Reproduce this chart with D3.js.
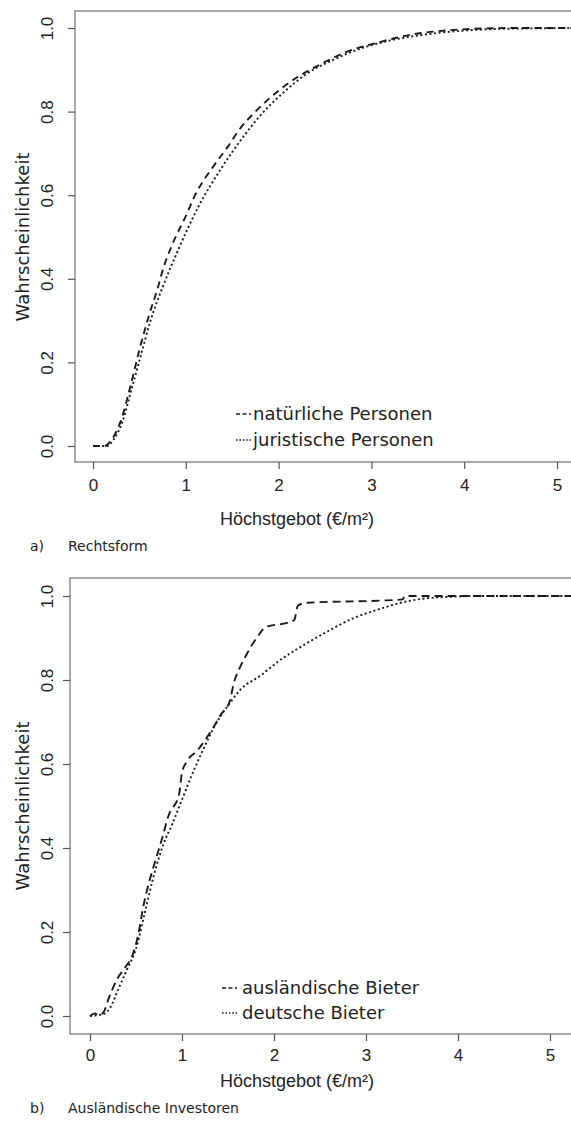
<!DOCTYPE html>
<html>
<head>
<meta charset="utf-8">
<script src="https://cdn.jsdelivr.net/npm/d3@7"></script>
<style>
  html, body { margin: 0; padding: 0; background: #fff; }
  svg { display: block; }
  .tick text { font-family: "Liberation Sans", Arial, sans-serif; font-size: 17px; fill: #222; }
</style>
</head>
<body>
<svg id="chart" width="571" height="1121"></svg>
<script>
// Empirical distribution of the highest bid (€/m²), two comparisons.
const xTicks = [0, 1, 2, 3, 4, 5];
const yTicks = [0.0, 0.2, 0.4, 0.6, 0.8, 1.0];
const xLabel = "Höchstgebot (€/m²)";
const yLabel = "Wahrscheinlichkeit";

// Panel a: legal form
const natuerlichePersonen = [
  [0, 0], [0.12, 0], [0.2, 0.015], [0.3, 0.06], [0.4, 0.14], [0.5, 0.23], [0.6, 0.31],
  [0.7, 0.38], [0.75, 0.42], [0.85, 0.48], [1.0, 0.55], [1.1, 0.6], [1.3, 0.67],
  [1.45, 0.715], [1.57, 0.755], [1.75, 0.8], [2.0, 0.85], [2.2, 0.882], [2.4, 0.907],
  [2.7, 0.94], [3.1, 0.967], [3.45, 0.985], [3.8, 0.994], [4.1, 0.998], [4.5, 1], [5.3, 1]
];
const juristischePersonen = [
  [0, 0], [0.15, 0], [0.22, 0.015], [0.32, 0.06], [0.42, 0.14], [0.52, 0.22], [0.62, 0.3],
  [0.75, 0.38], [0.9, 0.46], [1.13, 0.57], [1.37, 0.66], [1.62, 0.74], [1.8, 0.79],
  [2.05, 0.845], [2.3, 0.89], [2.6, 0.925], [2.9, 0.952], [3.2, 0.97], [3.6, 0.985],
  [4.0, 0.994], [4.4, 0.998], [5.3, 1]
];

// Panel b: foreign investors
const auslaendischeBieter = [
  [0, 0], [0.05, 0.006], [0.1, 0.002], [0.15, 0.01], [0.2, 0.04], [0.3, 0.09], [0.38, 0.115],
  [0.47, 0.15], [0.53, 0.2], [0.57, 0.25], [0.62, 0.3], [0.69, 0.355], [0.78, 0.42],
  [0.85, 0.475], [0.97, 0.53], [1.0, 0.58], [1.05, 0.605], [1.17, 0.633], [1.32, 0.68],
  [1.43, 0.72], [1.52, 0.75], [1.56, 0.79], [1.63, 0.83], [1.7, 0.86], [1.81, 0.9],
  [1.92, 0.927], [2.14, 0.936], [2.22, 0.943], [2.26, 0.977], [2.36, 0.984], [3.15, 0.989],
  [3.4, 0.992], [3.42, 1.0], [5.3, 1.0]
];
const deutscheBieter = [
  [0, 0], [0.15, 0.005], [0.22, 0.02], [0.3, 0.06], [0.4, 0.11], [0.5, 0.16], [0.6, 0.25],
  [0.7, 0.34], [0.8, 0.41], [0.9, 0.46], [1.0, 0.515], [1.1, 0.57], [1.2, 0.62],
  [1.38, 0.7], [1.52, 0.745], [1.63, 0.776], [1.85, 0.81], [2.07, 0.848], [2.36, 0.888],
  [2.61, 0.919], [2.86, 0.947], [3.12, 0.967], [3.4, 0.985], [3.6, 0.993], [3.9, 0.998],
  [4.2, 1.0], [5.3, 1.0]
];

const panels = [
  {
    id: "a", caption: "Rechtsform",
    box: { left: 75, top: 11, bottom: 462 },
    xr: [93, 557], yr: [446, 28],
    series: [
      { name: "natürliche Personen", data: natuerlichePersonen, dash: "7,5", legendDash: "4,2.5" },
      { name: "juristische Personen", data: juristischePersonen, dash: "2,2.6", legendDash: "1.6,1.8" }
    ],
    legend: { x: 236, y: 414, textX: 17, rowGap: 26 },
    tickPad: 10, titleY: 525, captionY: 551
  },
  {
    id: "b", caption: "Ausländische Investoren",
    box: { left: 70, top: 578, bottom: 1034 },
    xr: [90, 550], yr: [1016, 596],
    series: [
      { name: "ausländische Bieter", data: auslaendischeBieter, dash: "8,5", legendDash: "4,2.5" },
      { name: "deutsche Bieter", data: deutscheBieter, dash: "2,2.6", legendDash: "1.6,1.8" }
    ],
    legend: { x: 222, y: 988, textX: 20, rowGap: 25 },
    tickPad: 8, titleY: 1087, captionY: 1113
  }
];

const svg = d3.select("#chart");
const W = 571;

panels.forEach(p => {
  const g = svg.append("g").attr("class", "panel-" + p.id);
  const x = d3.scaleLinear().domain([0, 5]).range(p.xr);
  const y = d3.scaleLinear().domain([0, 1]).range(p.yr);

  const clipId = "clip-" + p.id;
  g.append("clipPath").attr("id", clipId)
    .append("rect")
    .attr("x", p.box.left).attr("y", p.box.top)
    .attr("width", W + 10 - p.box.left).attr("height", p.box.bottom - p.box.top);

  // plot frame (runs past the right edge)
  g.append("rect")
    .attr("x", p.box.left).attr("y", p.box.top)
    .attr("width", W + 20 - p.box.left).attr("height", p.box.bottom - p.box.top)
    .attr("fill", "none").attr("stroke", "#7a7a7a").attr("stroke-width", 1.3);

  // x axis
  const xAxis = g.append("g")
    .attr("transform", `translate(0,${p.box.bottom})`)
    .call(d3.axisBottom(x).tickValues(xTicks).tickFormat(d3.format("d")).tickSize(7).tickSizeOuter(0).tickPadding(p.tickPad));
  xAxis.select(".domain").remove();
  xAxis.selectAll(".tick line").attr("stroke", "#555").attr("stroke-width", 1.2);

  // y axis with rotated labels
  const yAxis = g.append("g")
    .attr("transform", `translate(${p.box.left},0)`)
    .call(d3.axisLeft(y).tickValues(yTicks).tickFormat(d3.format(".1f")).tickSize(7).tickSizeOuter(0));
  yAxis.select(".domain").remove();
  yAxis.selectAll(".tick line").attr("stroke", "#555").attr("stroke-width", 1.2);
  yAxis.selectAll(".tick text")
    .attr("x", null).attr("dy", null)
    .attr("text-anchor", "middle")
    .attr("transform", `translate(${47 - p.box.left},0) rotate(-90)`)
    .attr("dy", "0.36em");

  // axis titles
  g.append("text")
    .attr("x", 297).attr("y", p.titleY)
    .attr("text-anchor", "middle")
    .style("font-family", "'Liberation Sans', Arial, sans-serif")
    .style("font-size", "18px").attr("fill", "#222")
    .text(xLabel);
  g.append("text")
    .attr("transform", `translate(23,${(p.yr[0] + p.yr[1]) / 2}) rotate(-90)`)
    .attr("text-anchor", "middle")
    .attr("dy", "0.35em")
    .style("font-family", "'DejaVu Sans', Verdana, sans-serif")
    .style("font-size", "18px").attr("fill", "#222")
    .text(yLabel);

  // distribution curves
  const line = d3.line().x(d => x(d[0])).y(d => y(d[1])).curve(d3.curveMonotoneX);
  const curves = g.append("g").attr("clip-path", `url(#${clipId})`);
  p.series.forEach(s => {
    curves.append("path")
      .datum(s.data)
      .attr("d", line)
      .attr("fill", "none")
      .attr("stroke", "#1a1a1a")
      .attr("stroke-width", 1.9)
      .attr("stroke-dasharray", s.dash);
  });

  // legend
  const lg = g.append("g").attr("transform", `translate(${p.legend.x},${p.legend.y})`);
  p.series.forEach((s, i) => {
    const row = lg.append("g").attr("transform", `translate(0,${i * p.legend.rowGap})`);
    row.append("line")
      .attr("x1", 0).attr("x2", 15).attr("y1", 0).attr("y2", 0)
      .attr("stroke", "#1a1a1a").attr("stroke-width", 1.6)
      .attr("stroke-dasharray", s.legendDash);
    row.append("text")
      .attr("x", p.legend.textX).attr("y", 0).attr("dy", "0.35em")
      .style("font-family", "'DejaVu Sans', Verdana, sans-serif")
      .style("font-size", "18px").attr("fill", "#222")
      .text(s.name);
  });

  // caption below the panel
  g.append("text")
    .attr("x", 30).attr("y", p.captionY)
    .style("font-family", "'DejaVu Sans', Verdana, sans-serif")
    .style("font-size", "14px").attr("fill", "#222")
    .text(p.id + ")");
  g.append("text")
    .attr("x", 68).attr("y", p.captionY)
    .style("font-family", "'DejaVu Sans', Verdana, sans-serif")
    .style("font-size", "14px").attr("fill", "#222")
    .text(p.caption);
});
</script>
</body>
</html>
